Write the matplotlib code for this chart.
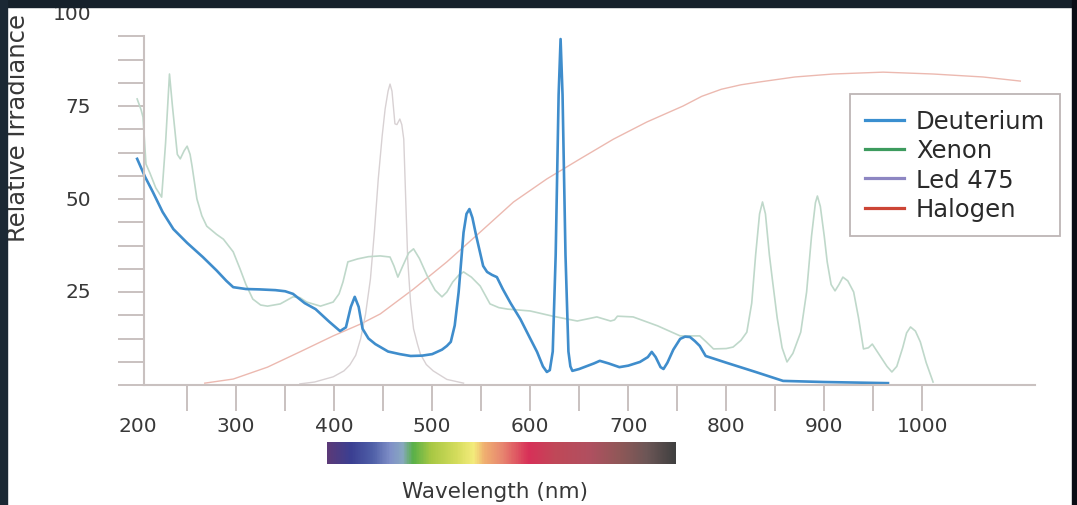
import matplotlib.pyplot as plt
import numpy as np
from matplotlib.colors import LinearSegmentedColormap
from matplotlib.lines import Line2D
from matplotlib.patches import Rectangle

# ---- data ----
deut_nm = [199, 207, 215, 225, 236, 250, 266, 280, 290, 297, 310, 324, 340, 350, 358,
           370, 381, 395, 406, 412, 417, 421, 425, 429, 435, 442, 455, 467, 478, 490,
           500, 510, 515, 519, 523, 527, 532, 535, 538, 541, 545, 552, 556, 561, 566,
           572, 580, 590, 600, 607, 613, 617, 620, 623, 626, 629, 631, 633, 636, 639,
           641, 643, 650, 658, 665, 671, 680, 691, 700, 712, 720, 724, 728, 733, 736,
           740, 746, 753, 758, 763, 768, 773, 779, 800, 830, 858, 900, 965]
deut_val = [60.8, 56, 51.9, 46.5, 41.9, 38.2, 34.4, 30.8, 28, 26.3, 25.8, 25.7, 25.5, 25.2, 24.5,
            22, 20.4, 17, 14.5, 15.5, 21, 23.7, 21, 15.1, 12.5, 11, 9, 8.3, 7.8, 7.9,
            8.3, 9.5, 10.5, 11.6, 16, 25, 41, 46, 47.3, 45, 40, 32, 30.4, 29.6, 29,
            25.8, 22, 17.7, 12.5, 8.9, 5, 3.5, 4, 9, 35, 78, 93, 78, 35, 9,
            5, 3.8, 4.3, 5.1, 5.8, 6.5, 5.8, 4.8, 5.2, 6.2, 7.5, 8.9, 7.5, 4.8, 4.3,
            6, 9.5, 12.4, 13, 12.9, 11.8, 10.5, 7.8, 6, 3.5, 1.1, 0.8, 0.5]

xenon_nm = [199, 203, 205, 208, 212, 218, 224, 228, 232, 235, 240, 243, 247, 250, 253,
            255, 260, 265, 270, 280, 287, 297, 304, 310, 317, 325, 332, 345, 358, 365,
            372, 386, 399, 405, 409, 414, 424, 435, 447, 457, 461, 465, 470, 476, 481,
            487, 495, 503, 510, 515, 521, 527, 532, 540, 549, 559, 568, 577, 600, 623,
            648, 668, 682, 686, 689, 705, 730, 753, 773, 780, 787, 800, 807, 815, 821,
            826, 830, 834, 837, 840, 844, 847, 852, 857, 862, 868, 876, 882, 887, 891,
            893, 896, 900, 903, 907, 911, 915, 919, 924, 930, 935, 940, 945, 949, 954,
            959, 964, 969, 974, 980, 984, 988, 993, 998, 1004, 1011]
xenon_val = [76.9, 74, 72, 59.4, 57, 53, 50.5, 65, 83.6, 75, 62, 60.8, 63, 64.2, 62,
             58.9, 50, 45.5, 42.7, 40.5, 39.2, 35.8, 31.2, 27, 23.1, 21.5, 21.2, 21.8, 23.7, 23.5,
             22.3, 21.2, 22.3, 24.5, 27.7, 33.1, 33.9, 34.5, 34.7, 34.4, 32, 29, 32, 35.5, 36.6,
             34, 29.3, 25.5, 23.7, 25, 27.7, 29.5, 30.4, 29, 26.6, 21.8, 20.8, 20.4, 19.9, 18.5,
             17.2, 18.3, 17.2, 17.5, 18.5, 18.3, 15.9, 13.2, 13.2, 11.5, 9.7, 9.8, 10.2, 12, 14.2,
             22, 35, 46, 49.2, 46, 35, 28.5, 18, 10, 6.2, 8.5, 14.2, 25, 40, 49,
             50.8, 48, 40, 33.1, 27, 25.3, 27, 29, 28, 25, 18, 9.7, 10, 11, 9,
             7, 5, 3.5, 5, 10, 14, 15.6, 14.5, 11.6, 6, 0.8]

led_nm = [365, 380, 399, 410, 416, 422, 427, 432, 437, 441, 445, 449, 452, 455, 457,
          459, 462, 464, 467, 469, 471, 473, 475, 478, 481, 485, 488, 494, 501, 515, 532]
led_val = [0.3, 0.8, 2.2, 3.8, 5.4, 8, 12.4, 19, 28.5, 41, 55.4, 67, 74.2, 79, 80.9,
           79, 70.2, 70, 71.5, 70, 66.1, 50, 33.9, 22, 15.1, 11, 8.3, 5.5, 3.8, 1.5, 0.5]

halogen_nm = [268, 297, 332, 365, 399, 427, 447, 481, 515, 549, 583, 617, 651, 685,
              719, 756, 775, 795, 815, 835, 870, 909, 960, 1011, 1062, 1100]
halogen_val = [0.5, 1.6, 4.8, 8.9, 13.2, 16.4, 19.1, 25.8, 33.1, 41.1, 49.2, 55.4, 60.8, 66.1,
               70.7, 75, 77.6, 79.5, 80.7, 81.5, 82.8, 83.6, 84.1, 83.6, 82.8, 81.7]

series_names = ["Deuterium", "Xenon", "Led 475", "Halogen"]
x_labels = [200, 300, 400, 500, 600, 700, 800, 900, 1000]
y_labels = [25, 50, 75, 100]

# ---- figure ----
plt.rcParams['font.family'] = ['DejaVu Sans']
txt = '#383838'
axc = '#c9c1c0'

fig = plt.figure(figsize=(10.77, 5.06), dpi=100, facecolor='white')
W, H = 1077, 506

# dark frame around the white panel
fig.add_artist(Rectangle((0, 1 - 8 / H), 1, 8 / H, transform=fig.transFigure,
                         color='#16212b', zorder=10))
fig.add_artist(Rectangle((0, 0), 7 / W, 1, transform=fig.transFigure,
                         color='#1b2834', zorder=10))
fig.add_artist(Rectangle((1072 / W, 0), 5 / W, 1, transform=fig.transFigure,
                         color='#0a0d15', zorder=10))

ax = fig.add_axes([144 / W, (H - 386) / H, (1035 - 144) / W, 372 / H])
ax.set_facecolor('none')
ax.set_xlim(206, 1115)
ax.set_ylim(0, 100)

ax.plot(halogen_nm, halogen_val, color='#ecb9b0', lw=1.0, clip_on=False)
ax.plot(led_nm, led_val, color='#d8d1d3', lw=1.0, clip_on=False)
ax.plot(xenon_nm, xenon_val, color='#bfd8ca', lw=1.2, clip_on=False)
ax.plot(deut_nm, deut_val, color='#3f8dcc', lw=1.9, clip_on=False)

for s in ['top', 'right']:
    ax.spines[s].set_visible(False)
for s in ['left', 'bottom']:
    ax.spines[s].set_color(axc)
    ax.spines[s].set_linewidth(1.5)
ax.spines['left'].set_bounds(0, 93.75)

ax.set_xticks(np.arange(250, 1001, 50))
ax.set_yticks(np.arange(0, 94, 6.25))
ax.tick_params(axis='both', direction='out', length=18.5, width=1.4, color=axc,
               labelbottom=False, labelleft=False)

for v in x_labels:
    ax.text(v, -0.11, str(v), transform=ax.get_xaxis_transform(), ha='center',
            va='center', fontsize=14.5, color=txt)
for v in y_labels:
    ax.text(-0.0595, v, str(v), transform=ax.get_yaxis_transform(), ha='right',
            va='center', fontsize=14.5, color=txt)

fig.text(18 / W, 1 - 128 / H, "Relative Irradiance", rotation=90, ha='center',
         va='center', fontsize=17.5, color=txt)
fig.text(495 / W, 1 - 492 / H, "Wavelength (nm)", ha='center', va='center',
         fontsize=15.5, color=txt)

# spectrum bar
spec_colors = [(0.0, '#5b3a78'), (0.066, '#3b3f92'), (0.13, '#5060a8'), (0.18, '#8090c8'),
               (0.215, '#88a8c0'), (0.245, '#58b048'), (0.297, '#a8c844'), (0.37, '#d4dc5c'),
               (0.42, '#f4ec7c'), (0.45, '#f0b070'), (0.5, '#e88870'), (0.578, '#d83058'),
               (0.655, '#c04858'), (0.755, '#b05060'), (0.84, '#905858'), (0.92, '#6c5656'),
               (1.0, '#404040')]
cmap = LinearSegmentedColormap.from_list('spec', spec_colors)
cax = fig.add_axes([327 / W, (H - 465) / H, 348 / W, 22 / H])
cax.imshow(np.linspace(0, 1, 400)[None, :], cmap=cmap, aspect='auto')
cax.axis('off')

# legend
handles = [Line2D([], [], color=c, lw=2.3) for c in ['#3a8fd0', '#3d9b5e', '#8d86c2', '#cc4535']]
leg = ax.legend(handles, series_names, loc='upper left', bbox_to_anchor=(850 / W, 1 - 95 / H),
                bbox_transform=fig.transFigure, borderaxespad=0, fontsize=17.5,
                handlelength=1.6, handletextpad=0.5, labelspacing=0.22, borderpad=0.62,
                fancybox=False, framealpha=1, edgecolor='#bdb5b5')
leg.get_frame().set_linewidth(1.3)
for t in leg.get_texts():
    t.set_color('#2a2a2a')

fig.savefig('out.png', dpi=100, facecolor=fig.get_facecolor())
